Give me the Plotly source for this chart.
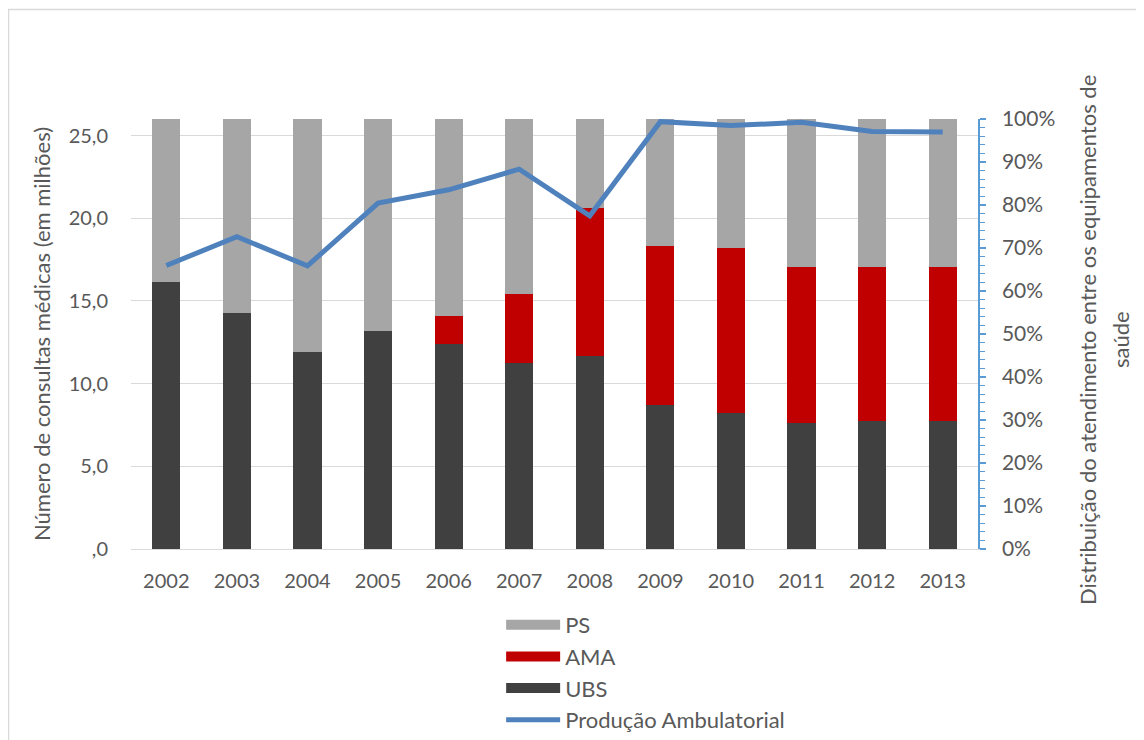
import plotly.graph_objects as go

years = ["2002", "2003", "2004", "2005", "2006", "2007", "2008", "2009", "2010", "2011", "2012", "2013"]
ubs = [62.0, 55.0, 45.9, 50.6, 47.6, 43.2, 44.8, 33.5, 31.6, 29.2, 29.8, 29.8]
ama = [0.0, 0.0, 0.0, 0.0, 6.5, 16.2, 34.5, 36.9, 38.4, 36.3, 35.7, 35.7]
ps = [round(100 - u - a, 1) for u, a in zip(ubs, ama)]
producao = [17.14, 18.88, 17.12, 20.92, 21.72, 22.97, 20.15, 25.84, 25.60, 25.80, 25.25, 25.21]

left_tickvals = [0, 5, 10, 15, 20, 25]
left_ticktext = [",0", "5,0", "10,0", "15,0", "20,0", "25,0"]
right_title_lines = ["Distribuição do atendimento entre os equipamentos de", "saúde"]

C_PS = "#A6A6A6"
C_AMA = "#C00000"
C_UBS = "#404040"
C_LINE = "#4F81BD"
FONT = "Lato"
TXT = "#595959"
FS = 20
FT = 22

# plot area in figure pixels
L, R, T, B = 123, 174, 111, 199
PW, PH = 1144 - L - R, 740 - T - B

fig = go.Figure()
for name, vals, col in [("UBS", ubs, C_UBS), ("AMA", ama, C_AMA), ("PS", ps, C_PS)]:
    fig.add_trace(go.Bar(x=years, y=vals, name=name, marker=dict(color=col, line=dict(width=0)),
                         yaxis="y", showlegend=False))

fig.add_trace(go.Scatter(x=years, y=producao, mode="lines", name="Produção Ambulatorial",
                         line=dict(color=C_LINE, width=5), yaxis="y2", showlegend=False))

# legend entries
for name, col, w in [("PS", C_PS, 13), ("AMA", C_AMA, 13), ("UBS", C_UBS, 13),
                     ("Produção Ambulatorial", C_LINE, 5)]:
    fig.add_trace(go.Scatter(x=[None], y=[None], mode="lines", name=name, legendgroup=name,
                             line=dict(color=col, width=w), yaxis="y2", showlegend=True))

# right axis title (two lines, Excel-like spacing)
title_x_px = [1079, 1112]
annotations = [dict(text=t, xref="paper", yref="paper",
                    x=(xp - L) / PW, y=(PH + T - 332) / PH,
                    xanchor="center", yanchor="middle", textangle=-90, showarrow=False,
                    font=dict(family=FONT, size=FT, color=TXT))
               for t, xp in zip(right_title_lines, title_x_px)]

fig.update_layout(
    width=1144, height=740,
    margin=dict(l=L, r=R, t=T, b=B, autoexpand=False),
    paper_bgcolor="white", plot_bgcolor="white",
    barmode="stack", bargap=0.6,
    font=dict(family=FONT, size=FS, color=TXT),
    xaxis=dict(type="category", showgrid=False, showline=True, linecolor="#D9D9D9", linewidth=1,
               ticks="", ticklabelstandoff=14, tickfont=dict(size=FS, color=TXT), automargin=False),
    yaxis=dict(side="right", range=[0, 100], dtick=10, ticksuffix="%", showgrid=False, zeroline=False,
               showline=True, linecolor="#5B9BD5", linewidth=1.5,
               ticks="outside", ticklen=6, tickcolor="#5B9BD5", tickwidth=1.5,
               minor=dict(dtick=2, ticks="outside", ticklen=5, tickcolor="#5B9BD5", tickwidth=1.2),
               ticklabelstandoff=12, automargin=False, tickfont=dict(size=21, color=TXT)),
    yaxis2=dict(side="left", overlaying="y", range=[0, 26], tickvals=left_tickvals, ticktext=left_ticktext,
                showgrid=True, gridcolor="#D9D9D9", gridwidth=1, zeroline=False, showline=False,
                ticks="", ticklabelstandoff=22, automargin=False, tickfont=dict(size=FS, color=TXT),
                title=dict(text="Número de consultas médicas (em milhões)", font=dict(size=FT, color=TXT),
                           standoff=11)),
    legend=dict(orientation="v", x=0.437, y=-0.128, xanchor="left", yanchor="top",
                traceorder="grouped", tracegroupgap=0, itemwidth=54,
                font=dict(size=FT, color=TXT), bgcolor="rgba(0,0,0,0)"),
    annotations=annotations,
    shapes=[dict(type="rect", xref="paper", yref="paper",
                 x0=(0.5 - L) / PW, x1=(1160 - L) / PW,
                 y0=(PH - 760 + T) / PH, y1=(PH + T - 1.5) / PH,
                 line=dict(color="#D9D9D9", width=1.5), fillcolor="rgba(0,0,0,0)", layer="below")],
)

fig.write_html("out.html")
